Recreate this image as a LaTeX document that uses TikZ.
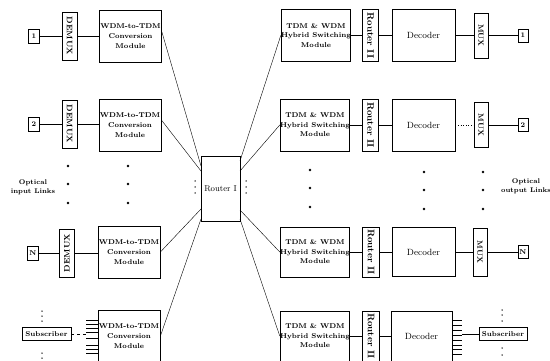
\documentclass[tikz,border=0pt]{standalone}
\begin{document}
\begin{tikzpicture}[x=1pt,y=-1pt,
  blk/.style={draw, line width=0.8pt, inner sep=0pt, align=center},
  conn/.style={line width=0.6pt},
  fan/.style={line width=0.4pt},
  dotm/.style={fill, circle, inner sep=0pt, minimum size=2.6pt},
  sdot/.style={fill, circle, inner sep=0pt, minimum size=1.5pt},
  numbox/.style={blk, minimum width=11pt, minimum height=14pt, font=\fontsize{7}{8}\selectfont\bfseries},
  demux/.style={blk, rotate=-90, minimum width=48pt, minimum height=15pt, font=\fontsize{8}{9}\selectfont\bfseries},
  mux/.style={blk, rotate=-90, minimum width=45pt, minimum height=14pt, font=\fontsize{7.5}{9}\selectfont\bfseries},
  wdm/.style={blk, minimum width=62pt, minimum height=52pt, font=\fontsize{7}{10}\selectfont\bfseries},
  hyb/.style={blk, minimum width=68pt, minimum height=52pt, font=\fontsize{7}{9.5}\selectfont\bfseries},
  rtwo/.style={blk, rotate=-90, minimum width=52pt, minimum height=16pt, font=\fontsize{9.5}{10}\selectfont\bfseries},
  dec/.style={blk, minimum width=63pt, minimum height=52pt, font=\fontsize{9}{10}\selectfont},
  subs/.style={blk, minimum width=49pt, minimum height=13pt, font=\fontsize{7}{8}\selectfont\bfseries},
  lbl/.style={align=center, inner sep=0pt, font=\fontsize{6.8}{9}\selectfont\bfseries}]
\useasboundingbox (0,0) rectangle (550,361);

% ---------------- left side ----------------
\node[numbox] (in1) at (34,36) {1};
\node[demux] (dm1) at (69.5,36) {DEMUX};
\node[wdm] (wm1) at (130.5,36) {WDM-to-TDM\\Conversion\\Module};
\draw[conn] (in1) -- (dm1) -- (wm1);

\node[numbox] (in2) at (34,124) {2};
\node[demux] (dm2) at (69.5,124) {DEMUX};
\node[wdm] (wm2) at (130,125) {WDM-to-TDM\\Conversion\\Module};
\draw[conn] (in2) -- (dm2);
\draw[conn] (dm2.north) -- (dm2.north -| wm2.west);

\node[numbox] (inN) at (33,253) {N};
\node[demux, rotate=180] (dmN) at (67,253) {DEMUX};
\node[wdm] (wmN) at (129,252) {WDM-to-TDM\\Conversion\\Module};
\draw[conn] (inN) -- (dmN);
\draw[conn] (dmN.south) -- (dmN.south -| wmN.west);

\node[subs] (subL) at (46.5,334) {Subscriber};
\node[wdm] (wmS) at (129,336) {WDM-to-TDM\\Conversion\\Module};
\draw[conn, dashed] (subL.east) -- ++(15,0);
\foreach \d in {-17,-13,-9,-2,4,8,12,16}
  \draw[conn] ([yshift=\d pt]wmS.west) -- ++(-12,0);

% dots left
\foreach \yy in {166,184,203} {
  \node[dotm] at (68,\yy) {};
  \node[dotm] at (128,\yy) {};
}
\foreach \yy in {311,316,321,353,358}
  \node[sdot] at (42,\yy) {};
\node[lbl] (oin) at (33,187) {Optical\\input Links};

% ---------------- router I ----------------
\node[blk, minimum width=39pt, minimum height=65pt, font=\fontsize{8.5}{10}\selectfont] (r1) at (220.5,188.5) {Router I};
\coordinate (rl1) at (201,166);
\coordinate (rl2) at (201,171);
\coordinate (rl3) at (201,209);
\coordinate (rl4) at (201,219);
\coordinate (rr1) at (240,161);
\coordinate (rr2) at (240,171);
\coordinate (rr3) at (240,210);
\coordinate (rr4) at (240,219);
\foreach \yy in {181,187,193} {
  \node[sdot] at (195,\yy) {};
  \node[sdot] at (246,\yy) {};
}
\draw[fan] ([yshift=4pt]wm1.east) -- (rl1);
\draw[fan] ([yshift=5pt]wm2.east) -- (rl2);
\draw[fan] (wmN.east) -- (rl3);
\draw[fan] (wmS.east) -- (rl4);

% ---------------- right side ----------------
\node[hyb] (hy1) at (316,35.5) {TDM \& WDM\\Hybrid Switching\\Module};
\node[rtwo] (rt1) at (370.5,35.5) {Router II};
\node[dec] (dc1) at (423.5,35.5) {Decoder};
\node[mux] (mx1) at (481,35.5) {MUX};
\node[numbox, minimum width=10pt, minimum height=13pt] (out1) at (523,35.5) {1};
\draw[conn] (hy1) -- (rt1) -- (dc1) -- (mx1) -- (out1);

\node[hyb] (hy2) at (315,125) {TDM \& WDM\\Hybrid Switching\\Module};
\node[rtwo] (rt2) at (370.5,125) {Router II};
\node[dec] (dc2) at (423.5,125) {Decoder};
\node[mux] (mx2) at (481,125) {MUX};
\node[numbox, minimum width=10pt, minimum height=13pt] (out2) at (523,125) {2};
\draw[conn] (hy2) -- (rt2) -- (dc2);
\draw[conn, dotted] (dc2) -- (mx2);
\draw[conn] (mx2) -- (out2);

\node[hyb, minimum width=67pt, minimum height=50pt] (hyN) at (315,252) {TDM \& WDM\\Hybrid Switching\\Module};
\node[rtwo, minimum width=50pt, minimum height=17pt] (rtN) at (371,252) {Router II};
\node[dec, minimum height=49pt] (dcN) at (423.5,252) {Decoder};
\node[mux, minimum width=48pt] (mxN) at (480,252) {MUX};
\node[numbox, minimum width=10pt, minimum height=13pt] (outN) at (523,252) {N};
\draw[conn] (hyN) -- (rtN) -- (dcN) -- (mxN) -- (outN);

\node[hyb, minimum width=67pt, minimum height=50pt] (hyS) at (315,336) {TDM \& WDM\\Hybrid Switching\\Module};
\node[rtwo, minimum width=50pt, minimum height=17pt] (rtS) at (371,336) {Router II};
\node[dec, minimum width=61pt, minimum height=50pt] (dcS) at (421.5,336) {Decoder};
\node[subs, minimum width=48pt] (subR) at (503,334) {Subscriber};
\draw[conn] (hyS) -- (rtS) -- (dcS);
\foreach \d in {-18,-13,-9,-4,1,6,11,16}
  \draw[conn] ([yshift=\d pt]dcS.east) -- ++(10,0);
\draw[conn] (subR.west) -- ++(-17,0);

% dots right
\foreach \yy in {170,188,207}
  \node[dotm] at (310,\yy) {};
\foreach \yy in {172,190,209} {
  \node[dotm] at (424,\yy) {};
  \node[dotm] at (483,\yy) {};
}
\foreach \yy in {310,315,321,348,355}
  \node[sdot] at (502,\yy) {};
\node[lbl] (oout) at (526,186) {Optical\\output Links};

\draw[fan] (rr1) -- (hy1.west);
\draw[fan] (rr2) -- (hy2.west);
\draw[fan] (rr3) -- (hyN.west);
\draw[fan] (rr4) -- (hyS.west);
\end{tikzpicture}
\end{document}
